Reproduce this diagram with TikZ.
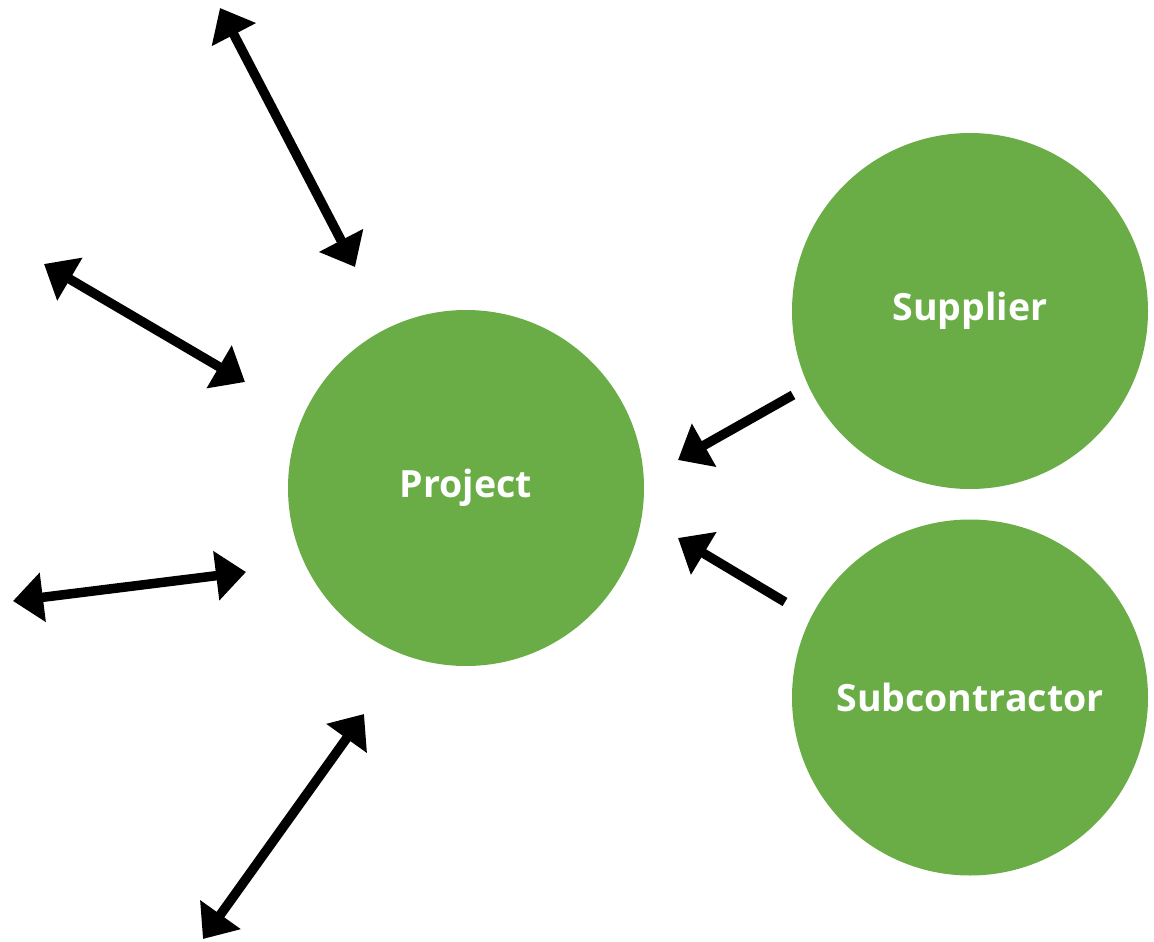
\documentclass[tikz,border=0pt]{standalone}
\usepackage{fontspec}
\setmainfont{Open Sans}
\usetikzlibrary{arrows.meta}
\definecolor{leaf}{RGB}{106,173,71}
\tikzset{
  bubble/.style={circle, fill=leaf, minimum size=356pt, inner sep=0pt, text=white, font=\fontsize{37.5}{42}\selectfont\bfseries},
  link/.style={line width=9.5pt, {Triangle[length=30pt,width=48pt]}-{Triangle[length=30pt,width=48pt]}},
  feed/.style={line width=9.5pt, -{Triangle[length=30pt,width=48pt]}}
}
\begin{document}
\begin{tikzpicture}[x=1pt,y=-1pt]
\useasboundingbox (0,0) rectangle (1154,942);
\node[bubble] (project) at (466,488) {Project};
\node[bubble] (supplier) at (970,311) {Supplier};
\node[bubble] (sub) at (970,697.5) {Subcontractor};
\coordinate (a1) at (220,8);   \coordinate (b1) at (355,267);
\coordinate (a2) at (44,264);  \coordinate (b2) at (245,382);
\coordinate (a3) at (13,601);  \coordinate (b3) at (246,572);
\coordinate (a4) at (203,939); \coordinate (b4) at (364,714);
\coordinate (s0) at (793,395); \coordinate (s1) at (678,460);
\coordinate (c0) at (785,602); \coordinate (c1) at (678,538);
\draw[link] (a1) -- (b1);
\draw[link] (a2) -- (b2);
\draw[link] (a3) -- (b3);
\draw[link] (a4) -- (b4);
\draw[feed] (s0) -- (s1);
\draw[feed] (c0) -- (c1);
\end{tikzpicture}
\end{document}
